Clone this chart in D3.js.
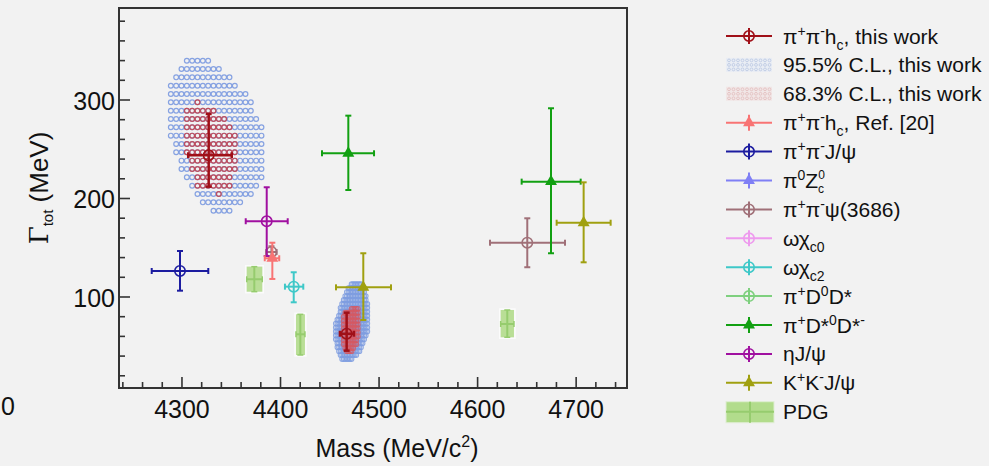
<!DOCTYPE html>
<html><head><meta charset="utf-8">
<script src="https://cdn.jsdelivr.net/npm/d3@7"></script>
<style>
body{margin:0;background:#f2f2f2;}
svg{display:block;font-family:"Liberation Sans",Arial,Helvetica,sans-serif;}
</style></head><body>
<svg id="chart" width="989" height="466"></svg>
<script>
// ---- axes ----
const massDomain = [4236.1, 4751.6];
const widthDomain = [7.6, 393.4];
const massTicks = [4300, 4400, 4500, 4600, 4700];
const widthTicks = [100, 200, 300];

// ---- measurements: m = mass, mLo/mHi = mass bar ends, g = width, gLo/gHi = width bar ends (MeV) ----
const hcThisWork = [
  {m: 4327.1, mLo: 4306.4, mHi: 4350.5, g: 243.9, gLo: 212.0, gHi: 285.8},
  {m: 4467.1, mLo: 4460.3, mHi: 4474.5, g: 62.7, gLo: 45.5, gHi: 84.1}
];
const hcRef20 = [
  {m: 4391.7, mLo: 4384.0, mHi: 4398.7, g: 139.3, gLo: 118.3, gHi: 155.1}
];
const pipiJpsi = [
  {m: 4298.0, mLo: 4269.3, mHi: 4326.7, g: 126.4, gLo: 106.4, gHi: 146.7}
];
const pipiPsi3686 = [
  {m: 4390.8, mLo: 4385.5, mHi: 4396.0, g: 145.7, gLo: 139.5, gHi: 151.5},
  {m: 4650.4, mLo: 4612.6, mHi: 4688.7, g: 155.1, gLo: 130.2, gHi: 179.9}
];
const omegaChic2 = [
  {m: 4413.4, mLo: 4404.5, mHi: 4423.1, g: 110.5, gLo: 94.6, gHi: 125.1}
];
const piDstDst = [
  {m: 4468.8, mLo: 4442.1, mHi: 4494.9, g: 245.9, gLo: 208.6, gHi: 284.1},
  {m: 4674.5, mLo: 4644.7, mHi: 4704.6, g: 217.1, gLo: 144.4, gHi: 291.6}
];
const etaJpsi = [
  {m: 4386.0, mLo: 4364.7, mHi: 4407.3, g: 176.9, gLo: 141.6, gHi: 211.4}
];
const kkJpsi = [
  {m: 4484.0, mLo: 4456.3, mHi: 4512.1, g: 109.8, gLo: 76.6, gHi: 144.4},
  {m: 4707.6, mLo: 4680.2, mHi: 4735.0, g: 175.4, gLo: 135.2, gHi: 216.4}
];
const pdg = [
  {m: 4373.4, mLo: 4365.7, mHi: 4381.5, g: 118.0, gLo: 105.4, gHi: 130.8},
  {m: 4420.1, mLo: 4415.7, mHi: 4424.8, g: 62.1, gLo: 41.1, gHi: 82.4},
  {m: 4630.1, mLo: 4623.4, mHi: 4636.9, g: 72.6, gLo: 59.1, gHi: 86.8}
];

// ---- likelihood-scan grid points inside the confidence regions: [width, first mass, last mass] ----
const scanGridA = {m0: 4288.7, dm: 5.41};
const cl95A = [
  [339.9, 4304.9, 4326.5], [331.5, 4299.5, 4337.4], [323.0, 4294.1, 4348.2],
  [314.5, 4288.7, 4353.6], [306.1, 4288.7, 4364.4], [297.7, 4288.7, 4369.9],
  [289.1, 4288.7, 4369.9], [280.7, 4288.7, 4375.3], [272.3, 4288.7, 4380.7],
  [263.8, 4288.7, 4380.7], [255.3, 4294.1, 4380.7], [246.9, 4294.1, 4380.7],
  [238.4, 4299.5, 4380.7], [230.0, 4299.5, 4380.7], [221.5, 4304.9, 4380.7],
  [213.0, 4310.3, 4375.3], [204.6, 4315.8, 4369.9], [196.1, 4321.2, 4359.0],
  [187.6, 4332.0, 4348.2]
];
const cl68A = [
  [297.7, 4315.8, 4315.8], [289.1, 4304.9, 4332.0], [280.7, 4304.9, 4342.8],
  [272.3, 4304.9, 4348.2], [263.8, 4304.9, 4353.6], [255.3, 4304.9, 4353.6],
  [246.9, 4304.9, 4353.6], [238.4, 4310.3, 4353.6], [230.0, 4310.3, 4353.6],
  [221.5, 4315.8, 4348.2], [213.0, 4315.8, 4348.2], [204.6, 4337.4, 4337.4]
];
const scanGridB = {m0: 4456.1, dm: 1.6};
const cl95B = [
  [113, 4471.3, 4481.5], [109, 4469.0, 4483.5], [105, 4467.2, 4485.5],
  [101, 4465.5, 4486.8], [97, 4464.0, 4487.6], [93, 4462.4, 4488.0],
  [89, 4461.0, 4488.2], [85, 4460.0, 4488.2], [81, 4459.3, 4488.2],
  [77, 4457.5, 4488.2], [73, 4456.2, 4488.2], [69, 4456.1, 4488.2],
  [65, 4456.1, 4487.8], [61, 4456.1, 4486.6], [57, 4456.1, 4485.2],
  [53, 4456.6, 4483.8], [49, 4457.5, 4482.0], [45, 4458.6, 4480.0],
  [41, 4460.5, 4477.5], [37, 4462.8, 4473.0]
];
const cl68B = [
  [88, 4472.5, 4478.6], [84, 4466.0, 4478.6], [80, 4464.1, 4478.6],
  [76, 4464.1, 4478.6], [72, 4464.1, 4478.6], [68, 4464.1, 4478.6],
  [64, 4464.1, 4478.6], [60, 4464.1, 4478.6], [56, 4464.1, 4477.6],
  [52, 4464.1, 4476.6], [48, 4465.4, 4474.5], [45, 4466.4, 4472.5]
];

// ---- colours ----
const C = {
  hc: "#a01018", cl95: "#7f9de0", cl68: "#c44a55", ref: "#f87474",
  jpsi: "#1c1ca0", zc0: "#7f7ff5", psi: "#a07078", chic0: "#ee9aee",
  chic2: "#3ec8c8", dd: "#7fd07f", dstdst: "#12a012", eta: "#a010a0",
  kk: "#a0a010", pdgFill: "#b2dc8c", pdgLine: "#96cc6e"
};

// ---- legend entries ----
const legendItems = [
  {kind: "circle", color: C.hc, parts: [["π"], ["+", "sup"], ["π"], ["-", "sup"], ["h"], ["c", "sub"], [", this work"]]},
  {kind: "cl95", parts: [["95.5% C.L., this work"]]},
  {kind: "cl68", parts: [["68.3% C.L., this work"]]},
  {kind: "tri", color: C.ref, parts: [["π"], ["+", "sup"], ["π"], ["-", "sup"], ["h"], ["c", "sub"], [", Ref. [20]"]]},
  {kind: "circle", color: C.jpsi, parts: [["π"], ["+", "sup"], ["π"], ["-", "sup"], ["J/ψ"]]},
  {kind: "tri", color: C.zc0, parts: [["π"], ["0", "sup"], ["Z"], ["0", "suphi"], ["c", "subback"]]},
  {kind: "circle", color: C.psi, parts: [["π"], ["+", "sup"], ["π"], ["-", "sup"], ["ψ(3686)"]]},
  {kind: "circle", color: C.chic0, parts: [["ωχ"], ["c0", "sub"]]},
  {kind: "circle", color: C.chic2, parts: [["ωχ"], ["c2", "sub"]]},
  {kind: "circle", color: C.dd, parts: [["π"], ["+", "sup"], ["D"], ["0", "sup"], ["D*"]]},
  {kind: "tri", color: C.dstdst, parts: [["π"], ["+", "sup"], ["D*"], ["0", "sup"], ["D*"], ["-", "sup"]]},
  {kind: "circle", color: C.eta, parts: [["ηJ/ψ"]]},
  {kind: "tri", color: C.kk, parts: [["K"], ["+", "sup"], ["K"], ["-", "sup"], ["J/ψ"]]},
  {kind: "pdg", parts: [["PDG"]]}
];

// ---- layout ----
const svg = d3.select("#chart");
const frame = {left: 119, right: 627, top: 8, bottom: 388};
const x = d3.scaleLinear().domain(massDomain).range([frame.left, frame.right]);
const y = d3.scaleLinear().domain(widthDomain).range([frame.bottom, frame.top]);

svg.append("rect").attr("width", 989).attr("height", 466).attr("fill", "#f2f2f2");

const plot = svg.append("g");

// confidence-region scan points
function drawScan(rows, grid, color, r, sw, op) {
  const pts = [];
  rows.forEach(([g, lo, hi]) => {
    const k0 = Math.ceil((lo - grid.m0) / grid.dm - 0.3);
    const k1 = Math.floor((hi - grid.m0) / grid.dm + 0.3);
    for (let k = k0; k <= k1; k++) pts.push([grid.m0 + k * grid.dm, g]);
  });
  plot.append("g").selectAll("circle").data(pts).join("circle")
    .attr("cx", d => x(d[0])).attr("cy", d => y(d[1])).attr("r", r)
    .attr("fill", "none").attr("stroke", color).attr("stroke-width", sw)
    .attr("stroke-opacity", op);
}
drawScan(cl95A, scanGridA, C.cl95, 2.4, 1.2, 0.95);
drawScan(cl68A, scanGridA, C.cl68, 2.4, 1.2, 0.95);
drawScan(cl95B, scanGridB, C.cl95, 2.3, 1.1, 0.85);
drawScan(cl68B, scanGridB, "#d45a64", 2.3, 1.2, 0.8);

// PDG boxes
const pdgG = plot.append("g");
pdg.forEach(p => {
  const x0 = x(p.mLo), x1 = x(p.mHi), y0 = y(p.gHi), y1 = y(p.gLo);
  pdgG.append("rect").attr("x", x0 - 1).attr("y", y0 - 1).attr("width", x1 - x0 + 2).attr("height", y1 - y0 + 2)
    .attr("fill", "none").attr("stroke", "#ffffff").attr("stroke-opacity", 0.7).attr("stroke-width", 1.5);
  pdgG.append("rect").attr("x", x0).attr("y", y0).attr("width", x1 - x0).attr("height", y1 - y0)
    .attr("fill", C.pdgFill).attr("fill-opacity", 0.9);
  const cx = x(p.m), cy = y(p.g);
  pdgG.append("line").attr("x1", cx).attr("x2", cx).attr("y1", y0).attr("y2", y1)
    .attr("stroke", C.pdgLine).attr("stroke-width", 2);
  pdgG.append("line").attr("x1", x0).attr("x2", x1).attr("y1", cy).attr("y2", cy)
    .attr("stroke", C.pdgLine).attr("stroke-width", 2);
  [y0, y1].forEach(yy => pdgG.append("line").attr("x1", cx - 3).attr("x2", cx + 3).attr("y1", yy).attr("y2", yy)
    .attr("stroke", C.pdgLine).attr("stroke-width", 1.5));
  [x0, x1].forEach(xx => pdgG.append("line").attr("x1", xx).attr("x2", xx).attr("y1", cy - 3).attr("y2", cy + 3)
    .attr("stroke", C.pdgLine).attr("stroke-width", 1.5));
});

const tri = d3.symbol().type(d3.symbolTriangle).size(62);

function drawMarker(g, cx, cy, kind, color) {
  if (kind === "circle") {
    g.append("circle").attr("cx", cx).attr("cy", cy).attr("r", 5.2)
      .attr("fill", "none").attr("stroke", color).attr("stroke-width", 1.6);
  } else if (kind === "tri") {
    g.append("path").attr("d", tri).attr("transform", `translate(${cx},${cy})`).attr("fill", color);
  }
}

function drawSeries(data, color, kind, lw) {
  const g = plot.append("g");
  data.forEach(p => {
    const cx = x(p.m), cy = y(p.g);
    const yt = y(p.gHi), yb = y(p.gLo), xl = x(p.mLo), xr = x(p.mHi);
    const seg = (x1, y1, x2, y2, w) => g.append("line").attr("x1", x1).attr("y1", y1).attr("x2", x2).attr("y2", y2)
      .attr("stroke", color).attr("stroke-width", w);
    seg(cx, yt, cx, yb, lw);
    seg(xl, cy, xr, cy, lw);
    seg(cx - 3, yt, cx + 3, yt, lw);
    seg(cx - 3, yb, cx + 3, yb, lw);
    seg(xl, cy - 3, xl, cy + 3, lw);
    seg(xr, cy - 3, xr, cy + 3, lw);
    drawMarker(g, cx, cy, kind, color);
  });
}

drawSeries(pipiJpsi, C.jpsi, "circle", 2);
drawSeries(pipiPsi3686, C.psi, "circle", 2);
drawSeries(etaJpsi, C.eta, "circle", 2);
drawSeries(hcRef20, C.ref, "tri", 2);
drawSeries(omegaChic2, C.chic2, "circle", 2);
drawSeries(piDstDst, C.dstdst, "tri", 2);
drawSeries(kkJpsi, C.kk, "tri", 2);
drawSeries(hcThisWork, C.hc, "circle", 2.5);

// ---- frame and axes ----
const axisColor = "#333";
svg.append("rect").attr("x", frame.left).attr("y", frame.top)
  .attr("width", frame.right - frame.left).attr("height", frame.bottom - frame.top)
  .attr("fill", "none").attr("stroke", axisColor).attr("stroke-width", 2);

const ax = svg.append("g").attr("stroke", axisColor).attr("stroke-width", 1.6);
d3.range(4240, 4751, 20).forEach(v => {
  const major = v % 100 === 0;
  ax.append("line").attr("x1", x(v)).attr("x2", x(v)).attr("y1", frame.bottom).attr("y2", frame.bottom - (major ? 11 : 6));
});
d3.range(20, 393, 20).forEach(v => {
  const major = v % 100 === 0;
  ax.append("line").attr("y1", y(v)).attr("y2", y(v)).attr("x1", frame.left).attr("x2", frame.left + (major ? 11 : 6));
});

const tickFont = 25;
svg.append("g").selectAll("text").data(massTicks).join("text")
  .attr("x", d => x(d)).attr("y", 418).attr("text-anchor", "middle")
  .attr("font-size", tickFont).attr("fill", "#111").text(d => d);
svg.append("g").selectAll("text").data(widthTicks).join("text")
  .attr("x", 115).attr("y", d => y(d) + 10).attr("text-anchor", "end")
  .attr("font-size", tickFont).attr("fill", "#111").text(d => d);
svg.append("text").attr("x", 15).attr("y", 415).attr("text-anchor", "end")
  .attr("font-size", tickFont).attr("fill", "#111").text("0");

// axis titles
const xt = svg.append("text").attr("x", 397).attr("y", 457).attr("text-anchor", "middle")
  .attr("font-size", 25).attr("fill", "#111");
xt.append("tspan").text("Mass (MeV/c");
xt.append("tspan").attr("font-size", 16).attr("dy", -10).text("2");
xt.append("tspan").attr("dy", 10).text(")");

const yt = svg.append("text").attr("transform", "translate(48,188) rotate(-90)")
  .attr("text-anchor", "middle").attr("font-size", 26).attr("fill", "#111");
yt.append("tspan").attr("font-family", "'DejaVu Serif', 'Liberation Serif', serif").text("Γ");
yt.append("tspan").attr("font-size", 15).attr("dy", 5).text("tot");
yt.append("tspan").attr("dy", -5).text(" (MeV)");

// ---- legend ----
const leg = svg.append("g");
const legX0 = 726, legX1 = 772, legMid = 749, legText = 783, legTop = 36, legStep = 28.9, legFont = 21;

function richText(sel, parts) {
  let off = 0;
  let lastSup = 0;
  parts.forEach(([t, mode]) => {
    const ts = sel.append("tspan").text(t);
    let target = 0;
    if (mode === "sup") { target = -8; ts.attr("font-size", 14); lastSup = t.length * 8; }
    else if (mode === "suphi") { target = -9; ts.attr("font-size", 12); lastSup = t.length * 6.8; }
    else if (mode === "sub") { target = 6; ts.attr("font-size", 14); }
    else if (mode === "subback") { target = 5; ts.attr("font-size", 12); }
    if (mode === "subback") ts.attr("dx", -lastSup);
    ts.attr("dy", target - off);
    off = target;
  });
}

legendItems.forEach((it, i) => {
  const cy = legTop + i * legStep;
  const g = leg.append("g");
  if (it.kind === "circle" || it.kind === "tri") {
    g.append("line").attr("x1", legX0).attr("x2", legX1).attr("y1", cy).attr("y2", cy)
      .attr("stroke", it.color).attr("stroke-width", 2);
    g.append("line").attr("x1", legMid).attr("x2", legMid).attr("y1", cy - 8).attr("y2", cy + 8)
      .attr("stroke", it.color).attr("stroke-width", 2);
    drawMarker(g, legMid, cy, it.kind, it.color);
  } else if (it.kind === "cl95" || it.kind === "cl68") {
    const col = it.kind === "cl95" ? "#b9c6e2" : "#e2bcbc";
    g.append("rect").attr("x", legX0).attr("y", cy - 7).attr("width", legX1 - legX0).attr("height", 14)
      .attr("fill", it.kind === "cl95" ? "#e9edf4" : "#f1e6e6");
    for (let r = 0; r < 3; r++) for (let c = 0; c < 10; c++) {
      g.append("circle").attr("cx", legX0 + 3 + c * 4.5).attr("cy", cy - 4.5 + r * 4.5).attr("r", 1.4)
        .attr("fill", "none").attr("stroke", col).attr("stroke-width", 0.8);
    }
  } else if (it.kind === "pdg") {
    g.append("rect").attr("x", legX0).attr("y", cy - 10).attr("width", 48).attr("height", 21)
      .attr("fill", C.pdgFill).attr("stroke", "#dfeed3").attr("stroke-width", 1);
    g.append("line").attr("x1", legX0).attr("x2", legX0 + 48).attr("y1", cy).attr("y2", cy)
      .attr("stroke", C.pdgLine).attr("stroke-width", 2);
    g.append("line").attr("x1", legX0 + 24).attr("x2", legX0 + 24).attr("y1", cy - 10).attr("y2", cy + 11)
      .attr("stroke", C.pdgLine).attr("stroke-width", 2);
  }
  const t = g.append("text").attr("x", legText).attr("y", cy + 7.5)
    .attr("font-size", legFont).attr("fill", "#111");
  richText(t, it.parts);
});
</script>
</body></html>
